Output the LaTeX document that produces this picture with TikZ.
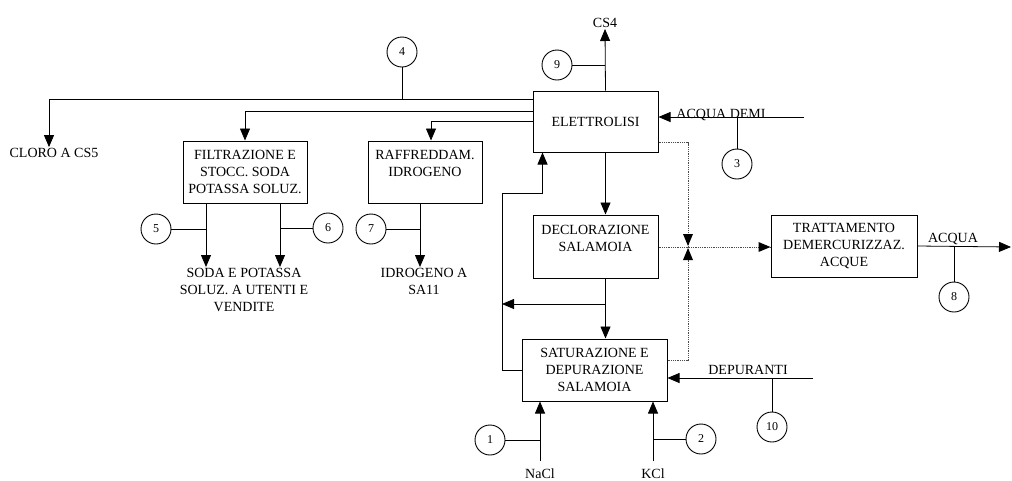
\documentclass[tikz,border=0pt]{standalone}
\usepackage{fontspec}
\setmainfont{Liberation Serif}
\usepackage{tikz}
\usetikzlibrary{positioning,arrows.meta,calc}
\tikzset{
  box/.style={draw, line width=1pt, align=center, inner sep=2pt, font=\fontsize{14}{17}\selectfont},
  lbl/.style={align=center, inner sep=1pt, font=\fontsize{14}{17}\selectfont},
  num/.style={circle, draw, line width=0.9pt, minimum size=30pt, inner sep=0pt, fill=white, font=\fontsize{12}{12}\selectfont},
  pipe/.style={line width=0.8pt},
  flow/.style={pipe, -{Triangle[length=12pt, width=10pt]}},
  dotline/.style={densely dotted, line width=0.8pt, black!70},
}

\begin{document}
\begin{tikzpicture}[x=1pt, y=-1pt]
  \useasboundingbox (0,0) rectangle (1012,480);
  % process units
  \node[box, minimum width=125pt, minimum height=61pt] (elet) at (595.5,121.5) {ELETTROLISI};
  \node[box, minimum width=125pt, minimum height=63pt] (decl) at (595.5,246.5) {DECLORAZIONE\\SALAMOIA\\~};
  \node[box, minimum width=145pt, minimum height=62pt] (sat) at (594.5,370) {SATURAZIONE E\\DEPURAZIONE\\SALAMOIA};
  \node[box, minimum width=146pt, minimum height=62pt] (tratt) at (844,246) {TRATTAMENTO\\DEMERCURIZZAZ.\\ACQUE};
  \node[box, minimum width=124pt, minimum height=62pt] (filt) at (245,172) {FILTRAZIONE E\\STOCC. SODA\\POTASSA SOLUZ.};
  \node[box, minimum width=114pt, minimum height=62pt] (raff) at (425,172) {RAFFREDDAM.\\IDROGENO\\~};
  % stream labels
  \node[lbl] (cloro) at (54,153) {CLORO A CS5};
  \node[lbl, anchor=north] (soda) at (244,267) {SODA E POTASSA\\SOLUZ. A UTENTI E\\VENDITE};
  \node[lbl, anchor=north] (idro) at (424,267) {IDROGENO A\\SA11};
  \node[lbl, anchor=south] (cs4) at (605,29) {CS4};
  \node[lbl, anchor=base] (demilbl) at (721,118) {ACQUA DEMI};
  \node[lbl, anchor=base] (acqualbl) at (953,242) {ACQUA};
  \node[lbl, anchor=base] (deplbl) at (748,374) {DEPURANTI};
  \node[lbl, anchor=base] (nacl) at (540,478) {NaCl};
  \node[lbl, anchor=base] (kcl) at (653,478) {KCl};
  % free ends and taps
  \coordinate (tap1) at ([yshift=-9pt]elet.north west);
  \coordinate (tap2) at ([yshift=-21pt]elet.north west);
  \coordinate (tap3) at ([yshift=-31pt]elet.north west);
  \coordinate (demi) at (804,117);
  \coordinate (dep) at (813,378);
  \coordinate (acquaend) at (1011,247);
  \coordinate (jd) at (688,247);
  \coordinate (lp) at (502,193);
  \coordinate (jb) at ([xshift=10pt]elet.south |- 0,304);
  \coordinate (f1) at ([xshift=-39pt]filt.south);
  \coordinate (f2) at ([xshift=35pt]filt.south);
  \coordinate (r1) at ([xshift=-5pt]raff.south);
  \coordinate (tw) at (tratt.west |- jd);
  % sample points
  \node[num] (c1) at (490,440) {1};
  \node[num] (c2) at (701,439) {2};
  \node[num] (c3) at (737,164) {3};
  \node[num] (c4) at (402,52) {4};
  \node[num] (c5) at (156,229) {5};
  \node[num] (c6) at (328,228) {6};
  \node[num] (c7) at (371,229) {7};
  \node[num] (c8) at (954,297) {8};
  \node[num] (c9) at (557,65) {9};
  \node[num] (c10) at (772,427) {10};
  % main streams
  \draw[flow] (tap1) -| ([xshift=-5pt]cloro.north);
  \draw[flow] (tap2) -| (filt.north);
  \draw[flow] (tap3) -| ([xshift=6pt]raff.north);
  \draw[flow] ([xshift=10pt]elet.north) -- (cs4.south);
  \draw[flow] (demi) -- (elet.east |- demi);
  \draw[flow] ([xshift=10pt]elet.south) -- ([xshift=10pt]decl.north);
  \draw[flow] ([xshift=10pt]decl.south) -- ([xshift=10pt]decl.south |- sat.north);
  \draw[flow] (jb) -- (jb -| lp);
  \draw[flow] (sat.west) -| (lp) -| ([xshift=10pt]elet.south west);
  \draw[flow] (f1) -- (f1 |- soda.north);
  \draw[flow] (f2) -- (f2 |- soda.north);
  \draw[flow] (r1) -- (r1 |- idro.north);
  \draw[flow] (tratt.east) -- (acquaend);
  \draw[flow] (dep) -- (sat.east |- dep);
  \draw[flow] ([yshift=6pt]nacl.north) -- (nacl.north |- sat.south);
  \draw[flow] ([yshift=6pt]kcl.north) -- (kcl.north |- sat.south);
  % mercury-bearing waters
  \draw[dotline] ([yshift=-52pt]elet.north east) -| (jd);
  \draw[dotline] ([yshift=-22pt]sat.north east) -| (jd);
  \draw[dotline] (decl.east |- jd) -- (tw);
  \fill ([yshift=1pt]jd) -- ++(-5,-12) -- ++(10,0) -- cycle;
  \fill ([yshift=-1pt]jd) -- ++(-5,12) -- ++(10,0) -- cycle;
  \fill (tw) -- ++(-12,-5) -- ++(0,10) -- cycle;
  % sample taps
  \draw[pipe] (c1) -- (c1 -| nacl.north);
  \draw[pipe] (c2) -- (c2 -| kcl.north);
  \draw[pipe] (c3) -- (c3 |- demi);
  \draw[pipe] (c4) -- (c4 |- tap1);
  \draw[pipe] (c5) -- (c5 -| f1);
  \draw[pipe] (c6) -- (c6 -| f2);
  \draw[pipe] (c7) -- (c7 -| r1);
  \draw[pipe] (c8) -- (c8 |- acquaend);
  \draw[pipe] (c9) -- (c9 -| cs4.south);
  \draw[pipe] (c10) -- (c10 |- dep);
\end{tikzpicture}
\end{document}
